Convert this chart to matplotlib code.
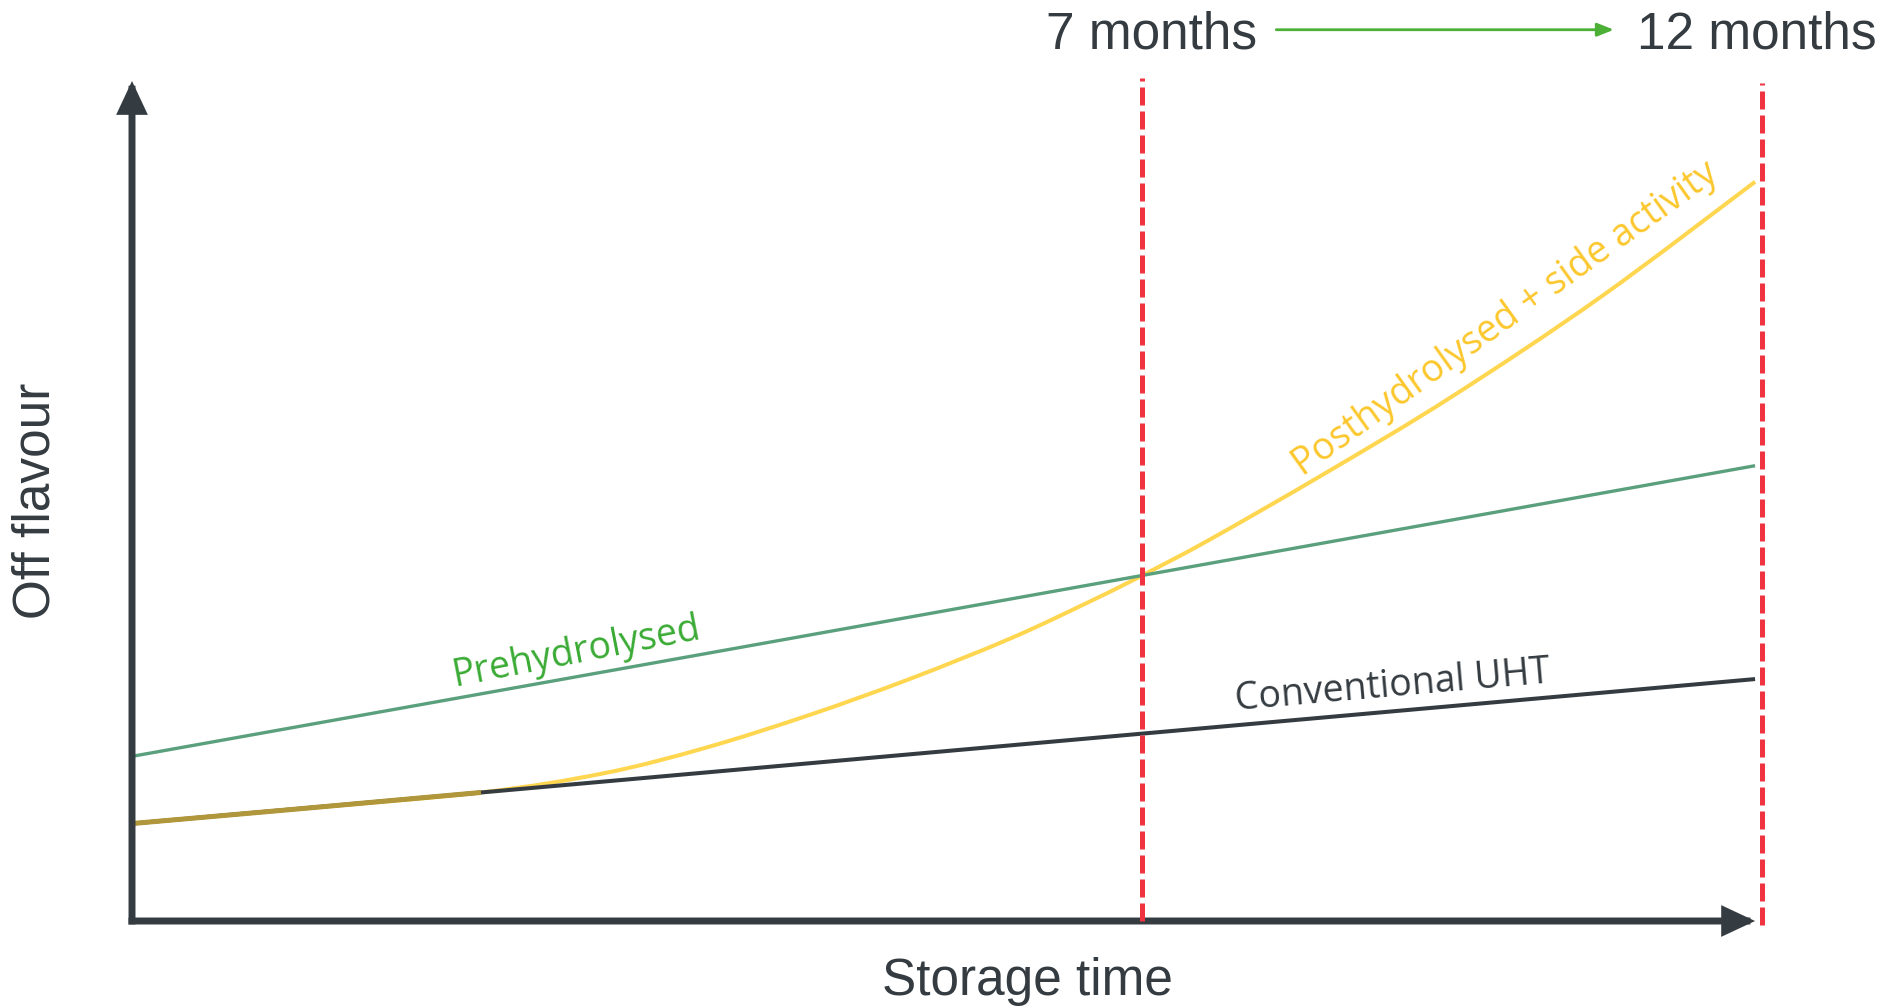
import matplotlib
matplotlib.use("Agg")
import numpy as np
import matplotlib.pyplot as plt
from matplotlib.path import Path
from matplotlib.patches import PathPatch

# storage time (arbitrary units, 0 = start, 100 = end of axis) vs off flavour
t_uht = [0, 100]
uht = [11.6, 28.8]

t_pre = [0, 100]
pre = [19.6, 54.2]

t_post = [0, 10, 21.5, 29.1, 35.3, 41.7, 47.9, 54.2, 59.3, 62.2, 66.4, 73.6, 81.3, 90.5, 100]
post = [11.6, 13.3, 15.3, 17.6, 20.6, 24.5, 28.8, 33.7, 38.3, 41.1, 45.4, 53.4, 62.4, 74.3, 88.0]
n_shared = 3  # post follows the UHT curve for its first points

milestones = [62.2, 100.4]
milestone_top = [100.4, 99.8]
milestone_bottom = [0.0, -0.5]
milestone_labels = ["7 months", "12 months"]
label_x = [62.8, 100.1]

dark = "#353c41"
green_line = "#5aa07c"
green_text = "#3aab35"
yellow = "#ffd64f"
yellow_text = "#fcc72c"
olive = "#b1973b"
red = "#ef3340"
arrow_green = "#4caf36"

plain = ["Liberation Sans", "DejaVu Sans"]
humanist = ["Open Sans", "DejaVu Sans"]


def smooth_path(xs, ys):
    """Catmull-Rom curve through the points, as cubic Bezier segments."""
    p = np.column_stack([xs, ys]).astype(float)
    ext = np.vstack([p[0], p, p[-1]])
    verts = [p[0]]
    codes = [Path.MOVETO]
    for i in range(1, len(ext) - 2):
        c1 = ext[i] + (ext[i + 1] - ext[i - 1]) / 6
        c2 = ext[i + 1] - (ext[i + 2] - ext[i]) / 6
        verts += [c1, c2, ext[i + 1]]
        codes += [Path.CURVE4] * 3
    return Path(verts, codes)


fig = plt.figure(figsize=(18.88, 10.08), dpi=100)
ax = fig.add_axes([0, 0, 1, 1])
ax.set_xlim(-8.133, 108.19)
ax.set_ylim(-10.357, 109.64)
ax.axis("off")

# axes with arrow heads
arrow_kw = dict(arrowstyle="-|>,head_length=1.6,head_width=0.75", mutation_scale=10,
                lw=5, color=dark, shrinkA=0, shrinkB=0, capstyle="projecting",
                joinstyle="miter")
ax.annotate("", xy=(100, 0), xytext=(0, 0), arrowprops=arrow_kw)
ax.annotate("", xy=(0, 100), xytext=(0, 0), arrowprops=arrow_kw)

# curves
ax.plot(t_pre, pre, color=green_line, lw=2.4, solid_capstyle="butt")
ax.add_patch(PathPatch(smooth_path(t_post, post), fill=False, edgecolor=yellow,
                       lw=2.9, capstyle="butt"))
ax.plot(t_uht, uht, color=dark, lw=2.9, solid_capstyle="butt")
ax.plot(t_post[:n_shared], post[:n_shared], color=olive, lw=3.6, solid_capstyle="butt")

# milestones
for x, top, bot in zip(milestones, milestone_top, milestone_bottom):
    ax.plot([x, x], [bot, top], color=red, lw=3.6, linestyle=(0, (3.6, 1.2)),
            dash_capstyle="butt", zorder=5)

for x, lab in zip(label_x, milestone_labels):
    ax.text(x, 103.9, lab, ha="center", va="baseline", fontsize=37,
            family=plain, color=dark)
ax.annotate("", xy=(91.3, 106.1), xytext=(70.5, 106.1),
            arrowprops=dict(arrowstyle="-|>,head_length=1.0,head_width=0.4",
                            mutation_scale=10, lw=2, color=arrow_green,
                            shrinkA=0, shrinkB=0))

# curve labels
ax.text(27.4, 32.0, "Prehydrolysed", rotation=11, rotation_mode="anchor",
        ha="center", va="center", fontsize=27, family=humanist, color=green_text)
ax.text(77.7, 28.0, "Conventional UHT", rotation=5, rotation_mode="anchor",
        ha="center", va="center", fontsize=27, family=humanist, color=dark)
ax.text(84.6, 71.7, "Posthydrolysed + side activity", rotation=35.6,
        rotation_mode="anchor", ha="center", va="center", fontsize=27,
        family=humanist, color=yellow_text)

# axis titles
ax.text(55.2, -8.8, "Storage time", ha="center", va="baseline", fontsize=37,
        family=plain, color=dark)
ax.text(-5.9, 50.0, "Off flavour", rotation=90, ha="center", va="center",
        fontsize=37, family=plain, color=dark)

fig.savefig("out.png", dpi=100)
